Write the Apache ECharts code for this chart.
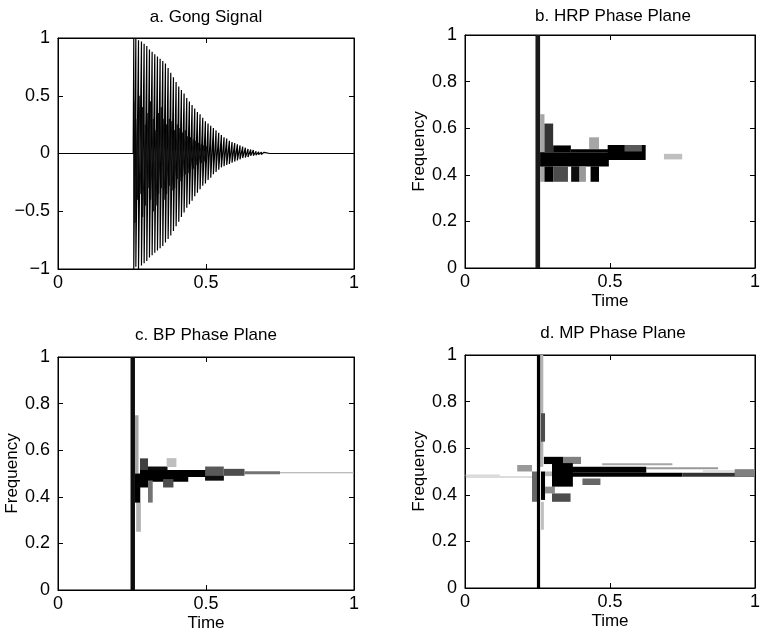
<!DOCTYPE html>
<html>
<head>
<meta charset="utf-8">
<script src="https://cdn.jsdelivr.net/npm/echarts@6/dist/echarts.min.js"></script>
<style>
  html, body {margin: 0; padding: 0; background: #fff;}
  #chart {width: 763px; height: 636px;}
</style>
</head>
<body>
<div id="chart"></div>
<script>
// a. gong signal: one vertical stroke per oscillation
var gongT = [0.256, 0.263, 0.272, 0.282, 0.291, 0.300, 0.309, 0.318, 0.327, 0.336,
  0.345, 0.354, 0.363, 0.372, 0.381, 0.390, 0.399, 0.408, 0.417, 0.426,
  0.435, 0.444, 0.453, 0.462, 0.471, 0.480, 0.489, 0.498, 0.507, 0.516,
  0.525, 0.534, 0.543, 0.552, 0.561, 0.570, 0.579, 0.588, 0.597, 0.606,
  0.615, 0.624, 0.633, 0.642, 0.651, 0.660, 0.669, 0.678, 0.687, 0.696, 0.705];
var gongHi = [1.00, 1.00, 0.98, 0.97, 0.95, 0.93, 0.90, 0.88, 0.86, 0.84,
  0.82, 0.80, 0.78, 0.74, 0.70, 0.66, 0.62, 0.58, 0.55, 0.52,
  0.48, 0.45, 0.42, 0.39, 0.36, 0.34, 0.31, 0.28, 0.26, 0.24,
  0.22, 0.20, 0.18, 0.16, 0.14, 0.13, 0.11, 0.10, 0.09, 0.08,
  0.07, 0.06, 0.05, 0.04, 0.035, 0.03, 0.02, 0.015, 0.012, 0.01, 0.005];
var gongLo = [-1.00, -0.98, -1.00, -0.97, -0.95, -0.93, -0.90, -0.88, -0.86, -0.84,
  -0.82, -0.80, -0.77, -0.74, -0.71, -0.67, -0.63, -0.59, -0.55, -0.51,
  -0.47, -0.44, -0.41, -0.37, -0.34, -0.31, -0.28, -0.26, -0.23, -0.21,
  -0.18, -0.16, -0.14, -0.12, -0.11, -0.10, -0.09, -0.08, -0.07, -0.06,
  -0.05, -0.04, -0.035, -0.03, -0.02, -0.018, -0.015, -0.01, -0.008, -0.005, -0.003];
// the darker beating texture inside the envelope
var gongInnerT = [0.260, 0.268, 0.277, 0.286, 0.295, 0.304, 0.313, 0.322, 0.331, 0.340,
  0.349, 0.358, 0.367, 0.376, 0.385, 0.394, 0.403, 0.412, 0.421, 0.430,
  0.439, 0.448, 0.457, 0.466, 0.475, 0.484, 0.493, 0.502];
var gongInnerHi = [0.45, 0.30, 0.50, 0.40, 0.25, 0.35, 0.45, 0.30, 0.20, 0.35,
  0.40, 0.30, 0.25, 0.30, 0.28, 0.20, 0.25, 0.22, 0.18, 0.20,
  0.15, 0.14, 0.12, 0.11, 0.09, 0.08, 0.07, 0.06];
var gongInnerLo = [-0.60, -0.40, -0.35, -0.55, -0.45, -0.30, -0.40, -0.50, -0.45, -0.35,
  -0.30, -0.40, -0.35, -0.28, -0.32, -0.30, -0.22, -0.24, -0.20, -0.18,
  -0.17, -0.14, -0.13, -0.10, -0.09, -0.08, -0.07, -0.05];
var gongQuietBefore = [0, 0.254];
var gongQuietAfter = [0.715, 1];

// phase-plane atoms: [t0, t1, f0, f1, energy 0..1]
var hrpAtoms = [
  [0.243, 0.259, 0, 1, 0.9],
  [0.259, 0.274, 0.37, 0.66, 0.35],
  [0.274, 0.304, 0.497, 0.62, 0.8],
  [0.259, 0.496, 0.436, 0.497, 1],
  [0.304, 0.365, 0.497, 0.526, 1],
  [0.365, 0.496, 0.497, 0.51, 1],
  [0.274, 0.304, 0.37, 0.436, 1],
  [0.304, 0.355, 0.37, 0.436, 0.7],
  [0.366, 0.395, 0.37, 0.436, 0.95],
  [0.395, 0.417, 0.37, 0.436, 0.4],
  [0.433, 0.462, 0.37, 0.436, 1],
  [0.428, 0.462, 0.511, 0.561, 0.35],
  [0.492, 0.623, 0.464, 0.528, 1],
  [0.55, 0.61, 0.50, 0.528, 0.65],
  [0.686, 0.749, 0.466, 0.49, 0.25]
];
var bpAtoms = [
  [0.26, 0.272, 0.50, 0.75, 0.35],
  [0.264, 0.28, 0.25, 0.46, 0.3],
  [0.245, 0.26, 0, 1, 0.95],
  [0.277, 0.304, 0.50, 0.565, 0.75],
  [0.26, 0.277, 0.375, 0.50, 1],
  [0.277, 0.304, 0.44, 0.50, 1],
  [0.304, 0.37, 0.50, 0.53, 0.95],
  [0.277, 0.50, 0.485, 0.515, 1],
  [0.30, 0.44, 0.465, 0.485, 1],
  [0.304, 0.32, 0.375, 0.47, 0.55],
  [0.355, 0.39, 0.44, 0.476, 0.7],
  [0.367, 0.40, 0.528, 0.566, 0.25],
  [0.497, 0.56, 0.47, 0.53, 0.65],
  [0.497, 0.56, 0.47, 0.49, 0.95],
  [0.56, 0.63, 0.49, 0.52, 0.7],
  [0.63, 0.75, 0.497, 0.51, 0.55],
  [0.75, 1.0, 0.501, 0.505, 0.35]
];
var mpAtoms = [
  [0, 0.12, 0.483, 0.486, 0.3],
  [0, 0.25, 0.475, 0.478, 0.55],
  [0.18, 0.231, 0.50, 0.528, 0.4],
  [0.231, 0.251, 0.37, 0.50, 0.6],
  [0.257, 0.27, 0.52, 1.0, 0.3],
  [0.262, 0.272, 0.25, 0.37, 0.25],
  [0.248, 0.259, 0, 1, 1],
  [0.262, 0.276, 0.628, 0.75, 0.7],
  [0.262, 0.276, 0.378, 0.50, 1],
  [0.276, 0.31, 0.406, 0.435, 0.45],
  [0.276, 0.30, 0.48, 0.50, 0.3],
  [0.30, 0.364, 0.37, 0.406, 0.7],
  [0.272, 0.338, 0.532, 0.563, 1],
  [0.338, 0.40, 0.532, 0.563, 0.5],
  [0.30, 0.372, 0.435, 0.536, 1],
  [0.473, 0.715, 0.527, 0.535, 0.35],
  [0.625, 0.873, 0.51, 0.518, 0.4],
  [0.82, 1.0, 0.50, 0.504, 0.25],
  [0.365, 0.625, 0.495, 0.52, 1],
  [0.365, 0.749, 0.478, 0.495, 1],
  [0.749, 1.0, 0.478, 0.495, 0.8],
  [0.93, 1.0, 0.478, 0.51, 0.5],
  [0.405, 0.467, 0.442, 0.47, 0.6]
];

var timeTicks = 0.5;
var freqTicks = 0.2;
var ampTicks = 0.5;

var font = '"Liberation Sans", Arial, Helvetica, sans-serif';

function strokes(ts, his, los) {
  var out = [];
  ts.forEach(function (t, i) {
    out.push([t, his[i]]);
    out.push([t, los[i]]);
  });
  return out;
}

var gongData = gongQuietBefore.map(function (t) { return [t, 0]; })
  .concat(strokes(gongT, gongHi, gongLo))
  .concat(gongQuietAfter.map(function (t) { return [t, 0]; }));
var gongInnerData = strokes(gongInnerT, gongInnerHi, gongInnerLo);

function atomItem(params, api) {
  var p0 = api.coord([api.value(0), api.value(3)]);
  var p1 = api.coord([api.value(1), api.value(2)]);
  var g = Math.round(255 * (1 - api.value(4)));
  return {
    type: 'rect',
    shape: {x: p0[0], y: p0[1], width: p1[0] - p0[0], height: p1[1] - p0[1]},
    style: {fill: 'rgb(' + g + ',' + g + ',' + g + ')'}
  };
}

var grids = [
  {left: 58, top: 38, width: 296, height: 231},
  {left: 465, top: 35, width: 295, height: 233},
  {left: 58, top: 357, width: 296, height: 233},
  {left: 465, top: 355, width: 295, height: 233}
].map(function (g) {
  return Object.assign({show: true, borderColor: '#000', borderWidth: 1, backgroundColor: '#fff'}, g);
});

function axisBase(gi, min, max, interval) {
  return {
    type: 'value', gridIndex: gi, min: min, max: max, interval: interval,
    splitLine: {show: false},
    axisLine: {show: true, onZero: false, lineStyle: {color: '#000', width: 1}},
    axisTick: {show: true, inside: true, length: 5, lineStyle: {color: '#000'}}
  };
}

var labelStyle = {color: '#000', fontSize: 18, fontFamily: font};
var nameStyle = {color: '#000', fontSize: 17, fontFamily: font};

function minus(v) {
  return v < 0 ? '\u2212' + Math.abs(v) : String(v);
}

var xAxis = [], yAxis = [];
grids.forEach(function (g, gi) {
  var hasNames = gi > 0;
  xAxis.push(Object.assign(axisBase(gi, 0, 1, timeTicks), {
    position: 'bottom',
    axisLabel: Object.assign({margin: 5}, labelStyle),
    name: hasNames ? 'Time' : '', nameLocation: 'middle', nameGap: 25, nameTextStyle: nameStyle
  }));
  xAxis.push(Object.assign(axisBase(gi, 0, 1, timeTicks), {position: 'top', axisLabel: {show: false}}));
  var ymin = gi === 0 ? -1 : 0;
  var yint = gi === 0 ? ampTicks : freqTicks;
  yAxis.push(Object.assign(axisBase(gi, ymin, 1, yint), {
    position: 'left',
    axisLabel: Object.assign({margin: 8, formatter: minus}, labelStyle),
    name: hasNames ? 'Frequency' : '', nameLocation: 'middle', nameGap: 36, nameTextStyle: nameStyle
  }));
  yAxis.push(Object.assign(axisBase(gi, ymin, 1, yint), {position: 'right', axisLabel: {show: false}}));
});

var titles = [
  ['a. Gong Signal', 206, 17],
  ['b. HRP Phase Plane', 613, 16],
  ['c. BP Phase Plane', 206, 335],
  ['d. MP Phase Plane', 613, 333]
];

var atomSeries = [hrpAtoms, bpAtoms, mpAtoms].map(function (atoms, k) {
  var gi = k + 1;
  return {
    type: 'custom',
    xAxisIndex: gi * 2,
    yAxisIndex: gi * 2,
    renderItem: atomItem,
    encode: {x: [0, 1], y: [2, 3]},
    clip: true,
    data: atoms
  };
});

var chart = echarts.init(document.getElementById('chart'));
chart.setOption({
  animation: false,
  backgroundColor: '#fff',
  grid: grids,
  xAxis: xAxis,
  yAxis: yAxis,
  graphic: titles.map(function (t) {
    return {
      type: 'text', x: t[1], y: t[2],
      style: {text: t[0], textAlign: 'center', textVerticalAlign: 'middle', fill: '#000', font: '17px ' + font}
    };
  }),
  series: [{
    type: 'line',
    xAxisIndex: 0,
    yAxisIndex: 0,
    data: gongData,
    showSymbol: false,
    lineStyle: {color: '#000', width: 1.2}
  }, {
    type: 'line',
    xAxisIndex: 0,
    yAxisIndex: 0,
    data: gongInnerData,
    showSymbol: false,
    lineStyle: {color: '#111', width: 1}
  }].concat(atomSeries)
});
</script>
</body>
</html>
